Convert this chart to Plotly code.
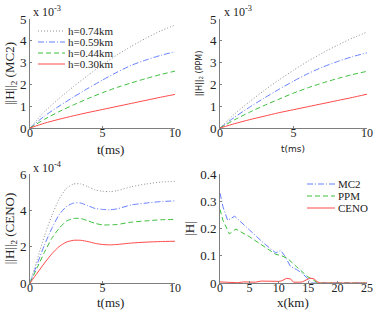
import plotly.graph_objects as go

# ---------------- data ----------------
t_ms = [0, 1, 2, 3, 4, 5, 6, 7, 8, 9, 10]
h_labels = ["h=0.74km", "h=0.59km", "h=0.44km", "h=0.30km"]

mc2_h074 = [0, 0.75, 1.35, 1.90, 2.42, 2.90, 3.35, 3.75, 4.12, 4.45, 4.72]
mc2_h059 = [0, 0.55, 1.00, 1.42, 1.82, 2.20, 2.56, 2.88, 3.12, 3.33, 3.50]
mc2_h044 = [0, 0.40, 0.75, 1.06, 1.35, 1.62, 1.86, 2.07, 2.27, 2.45, 2.61]
mc2_h030 = [0, 0.22, 0.40, 0.56, 0.71, 0.85, 0.99, 1.13, 1.27, 1.41, 1.54]

ppm_h074 = [0, 0.65, 1.20, 1.72, 2.20, 2.65, 3.07, 3.45, 3.80, 4.12, 4.40]
ppm_h059 = [0, 0.50, 0.95, 1.37, 1.77, 2.15, 2.50, 2.80, 3.05, 3.27, 3.45]
ppm_h044 = [0, 0.38, 0.72, 1.03, 1.32, 1.60, 1.85, 2.07, 2.27, 2.45, 2.60]
ppm_h030 = [0, 0.20, 0.38, 0.54, 0.70, 0.84, 0.98, 1.12, 1.26, 1.40, 1.55]

t_ceno = [0, 0.5, 1, 1.5, 2, 2.5, 3, 3.5, 4, 4.5, 5, 5.5, 6, 7, 8, 9, 10]
ceno_h074 = [0, 1.30, 2.60, 3.70, 4.60, 5.20, 5.45, 5.45, 5.30, 5.12, 5.05, 5.03, 5.08, 5.30, 5.45, 5.55, 5.60]
ceno_h059 = [0, 1.05, 2.10, 3.00, 3.75, 4.20, 4.40, 4.40, 4.25, 4.10, 4.05, 4.03, 4.08, 4.30, 4.40, 4.48, 4.52]
ceno_h044 = [0, 0.85, 1.70, 2.45, 3.00, 3.40, 3.55, 3.55, 3.42, 3.28, 3.20, 3.20, 3.22, 3.35, 3.42, 3.48, 3.50]
ceno_h030 = [0, 0.55, 1.10, 1.60, 2.00, 2.25, 2.35, 2.35, 2.28, 2.18, 2.12, 2.10, 2.12, 2.20, 2.25, 2.28, 2.30]

method_labels = ["MC2", "PPM", "CENO"]
x_mc2 = [0, 0.5, 1.3, 2.5, 5, 7.5, 9.5, 10.3, 11, 12, 13, 14, 15, 15.5, 16, 25]
H_mc2 = [0.33, 0.28, 0.23, 0.245, 0.195, 0.145, 0.11, 0.12, 0.10, 0.06, 0.05, 0.035, 0.015, 0.0, 0.0, 0.0]
x_ppm = [0, 0.5, 1.6, 2.7, 5, 7.5, 9.5, 10.5, 11.5, 13, 14, 15, 15.8, 16.5, 17, 25]
H_ppm = [0.27, 0.23, 0.18, 0.198, 0.17, 0.135, 0.105, 0.10, 0.09, 0.06, 0.04, 0.022, 0.012, 0.002, 0.0, 0.0]
x_ceno = [0, 1.5, 3, 4, 5.5, 6, 7, 8, 9, 10, 10.5, 11.3, 12, 12.5, 13.5, 14, 15.3, 16, 16.5, 17, 25]
H_ceno = [0.004, 0.002, 0.001, 0.004, 0.005, 0.003, 0.007, 0.006, 0.007, 0.006, 0.008, 0.017, 0.015, 0.003, 0.003, 0.004, 0.018, 0.015, 0.005, 0.0, 0.0]

# ---------------- styles ----------------
COL = ["#8f8f8f", "#6680ff", "#3cbf3c", "#ff4a4a"]
DASH = ["1px,2px", "6px,2px,1px,2px", "5px,3px", "solid"]
SERIF = "Liberation Serif"
SANS = "DejaVu Sans"
AX = "#7f7f7f"

fig = go.Figure()

def add(x, y, i, xa, ya, scale=1.0):
    fig.add_trace(go.Scatter(
        x=x, y=[v * scale for v in y], mode="lines",
        line=dict(color=COL[i], width=1, dash=DASH[i], shape="spline", smoothing=0.6),
        xaxis=xa, yaxis=ya, showlegend=False, hoverinfo="skip"))

for i, ser in enumerate([mc2_h074, mc2_h059, mc2_h044, mc2_h030]):
    add(t_ms, ser, i, "x", "y", 1e-3)
for i, ser in enumerate([ppm_h074, ppm_h059, ppm_h044, ppm_h030]):
    add(t_ms, ser, i, "x2", "y2", 1e-3)
for i, ser in enumerate([ceno_h074, ceno_h059, ceno_h044, ceno_h030]):
    add(t_ceno, ser, i, "x3", "y3", 1e-4)
for i, (xx, yy) in enumerate([(x_mc2, H_mc2), (x_ppm, H_ppm), (x_ceno, H_ceno)]):
    fig.add_trace(go.Scatter(
        x=xx, y=yy, mode="lines",
        line=dict(color=COL[i + 1], width=1, dash=DASH[i + 1]),
        xaxis="x4", yaxis="y4", showlegend=False, hoverinfo="skip"))

def xaxis(dom, anchor, rng, tv):
    return dict(domain=dom, anchor=anchor, range=rng, tickvals=tv, automargin=False,
                showline=True, linecolor=AX, linewidth=1, showgrid=False, zeroline=False,
                ticks="inside", ticklen=2, tickcolor=AX, ticklabelstandoff=-6,
                tickfont=dict(family=SERIF, size=12, color="#222"))

def yaxis(dom, anchor, rng, tv, tt, title, tfont, standoff=2):
    return dict(domain=dom, anchor=anchor, range=rng, tickvals=tv, ticktext=tt, automargin=False,
                showline=True, linecolor=AX, linewidth=1, showgrid=False, zeroline=False,
                ticks="inside", ticklen=2, tickcolor=AX,
                tickfont=dict(family=SERIF, size=13, color="#222"),
                title=dict(text=title, font=tfont, standoff=standoff))

serif_t = dict(family=SERIF, size=13, color="#222")
sans_t = dict(family=SANS, size=8, color="#222")

dx1 = [30 / 374, 175 / 374]
dx2 = [220 / 374, 367 / 374]
dy1 = [1 - 128 / 310, 1 - 19 / 310]
dy2 = [1 - 283 / 310, 1 - 174 / 310]

m3 = [0, 1e-3, 2e-3, 3e-3, 4e-3, 5e-3]
m3t = ["0", "1", "2", "3", "4", "5"]
fig.update_layout(
    width=374, height=310,
    margin=dict(l=0, r=0, t=0, b=0),
    paper_bgcolor="white", plot_bgcolor="white",
    xaxis=xaxis(dx1, "y", [0, 10], [0, 5, 10]),
    yaxis=yaxis(dy1, "x", [0, 5e-3], m3, m3t, "||H||<sub>2</sub> (MC2)", serif_t),
    xaxis2=xaxis(dx2, "y2", [0, 10], [0, 5, 10]),
    yaxis2=yaxis(dy1, "x2", [0, 5e-3], m3, m3t, "||H||<sub>2</sub> (PPM)", sans_t, standoff=6),
    xaxis3=xaxis(dx1, "y3", [0, 10], [0, 5, 10]),
    yaxis3=yaxis(dy2, "x3", [0, 6e-4], [0, 2e-4, 4e-4, 6e-4], ["0", "2", "4", "6"],
                 "||H||<sub>2</sub> (CENO)", serif_t),
    xaxis4=xaxis(dx2, "y4", [0, 25], [0, 5, 10, 15, 20, 25]),
    yaxis4=yaxis([dy2[0], dy2[1]], "x4", [0, 0.4], [0, 0.1, 0.2, 0.3, 0.4],
                 ["0", "0.1", "0.2", "0.3", "0.4"], "|H|", serif_t),
)

def note(xp, yp, text, font, xanchor="center"):
    fig.add_annotation(x=xp / 374, y=1 - yp / 310, xref="paper", yref="paper",
                       xanchor=xanchor, yanchor="middle", showarrow=False,
                       text=text, font=font)

# x-axis titles
note(110, 149, "t(ms)", serif_t)
note(293, 149, "t(ms)", dict(family=SANS, size=9, color="#222"))
note(110, 302, "t(ms)", serif_t)
note(293, 302, "x(km)", serif_t)

# exponent annotations
for xp, yp, ex in [(31, 12, "-3"), (222, 12, "-3"), (31, 167, "-4")]:
    note(xp, yp, "x 10<sup>" + ex + "</sup>", dict(family=SERIF, size=12, color="#222"), "left")

# manual legends (compact, like the original)
def legend(labels, idx, x0, x1, xt, ys, size):
    for lab, i, yy in zip(labels, idx, ys):
        yp = 1 - yy / 310
        fig.add_shape(type="line", xref="paper", yref="paper",
                      x0=x0 / 374, x1=x1 / 374, y0=yp, y1=yp,
                      line=dict(color=COL[i], width=1, dash=DASH[i]))
        note(xt, yy, lab, dict(family=SERIF, size=size, color="#222"), "left")

legend(h_labels, [0, 1, 2, 3], 38, 65, 66, [31, 42, 53, 64], 11)
legend(method_labels, [1, 2, 3], 307, 335, 336, [184, 196, 208], 11)

fig.write_html("out.html", config={"displayModeBar": False},
               post_script="document.body.style.margin='0';document.body.style.overflow='hidden';")
